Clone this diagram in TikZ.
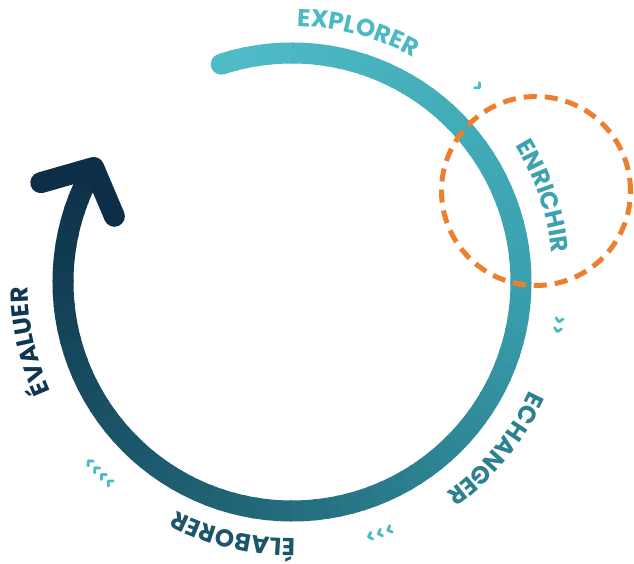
\documentclass[tikz,border=0pt]{standalone}
\usepackage{fontspec}
\newfontfamily\lblfont{Poppins}
\usetikzlibrary{decorations.text}

\definecolor{cycleA}{HTML}{4EBCC7}
\definecolor{cycleB}{HTML}{3AA0AE}
\definecolor{cycleC}{HTML}{236C7D}
\definecolor{cycleD}{HTML}{0D2E46}
\definecolor{chevcol}{HTML}{4BBAC6}
\definecolor{focuscol}{HTML}{EE7F2F}
\definecolor{lblA}{HTML}{4BBAC6}
\definecolor{lblB}{HTML}{3DA3B1}
\definecolor{lblC}{HTML}{2C8190}
\definecolor{lblD}{HTML}{1B566B}
\definecolor{lblE}{HTML}{103752}

\tikzset{
  ring/.style={line width=21pt},
  arrowline/.style={line width=21pt,draw=cycleD,line cap=round,line join=round},
  chev/.style={draw=chevcol,line width=2.8pt,line cap=round,line join=round},
  focusring/.style={draw=focuscol,line width=5pt,dash pattern=on 13.1pt off 8pt}
}

% #1 colour, #2 middle angle, #3 baseline radius, #4 word
\newcommand{\cyclabel}[4]{%
  \path[decorate,decoration={text along path,text align=center,
    text={|\lblfont\bfseries\fontsize{24.5}{24.5}\selectfont\color{#1}|#4}}]
    (#2+40:#3) arc[start angle=#2+40,end angle=#2-40,radius=#3];}
% #1 angle, #2 radius
\newcommand{\chevron}[2]{%
  \draw[chev,shift={(#1:#2)},rotate=#1-90] (-3.5pt,3.5pt) -- (0,0) -- (-3.5pt,-3.5pt);}

\begin{document}
\begin{tikzpicture}[x=1pt,y=1pt]
\useasboundingbox (-292,-282) rectangle (342,282);

\coordinate (ctr) at (0,0);
\coordinate (tip) at (150:229pt);
\coordinate (zoomc) at (244,91);

% the cycle, light to dark
\fill[cycleA] (108:229pt) circle[radius=10.5pt];
\foreach \i [evaluate=\i as \a using 108-3*\i, evaluate=\i as \p using \i*100/36] in {0,...,35}
  \draw[ring,cycleB!\p!cycleA] (\a:229pt) arc[start angle=\a,end angle=\a-3.5,radius=229pt];
\foreach \i [evaluate=\i as \a using -3*\i, evaluate=\i as \p using \i*100/30] in {0,...,29}
  \draw[ring,cycleC!\p!cycleB] (\a:229pt) arc[start angle=\a,end angle=\a-3.5,radius=229pt];
\foreach \i [evaluate=\i as \a using -90-3*\i, evaluate=\i as \p using \i*100/40] in {0,...,39}
  \draw[ring,cycleD!\p!cycleC] (\a:229pt) arc[start angle=\a,end angle=\a-3.5,radius=229pt];

\draw[arrowline] (tip) ++(196:55pt) -- (tip) -- ++(293:53pt);

% words
\cyclabel{lblA}{75.2}{255.5pt}{EXPLORER}
\cyclabel{lblB}{18.9}{261.5pt}{ENRICHIR}
\cyclabel{lblC}{-39.3}{261.5pt}{ECHANGER}
\cyclabel{lblD}{-103.1}{256.5pt}{ÉLABORER}
\cyclabel{lblE}{192.7}{264.5pt}{ÉVALUER}

% small chevrons
\chevron{46}{270pt}
\foreach \a in {-8.5,-10.6} {\chevron{\a}{270pt}}
\foreach \a in {-68.9,-71.1,-73.3} {\chevron{\a}{266pt}}
\foreach \a in {221.3,223.3,225.3,227.3} {\chevron{\a}{271pt}}

\draw[focusring] (zoomc) circle[radius=94.5pt];

\end{tikzpicture}
\end{document}
